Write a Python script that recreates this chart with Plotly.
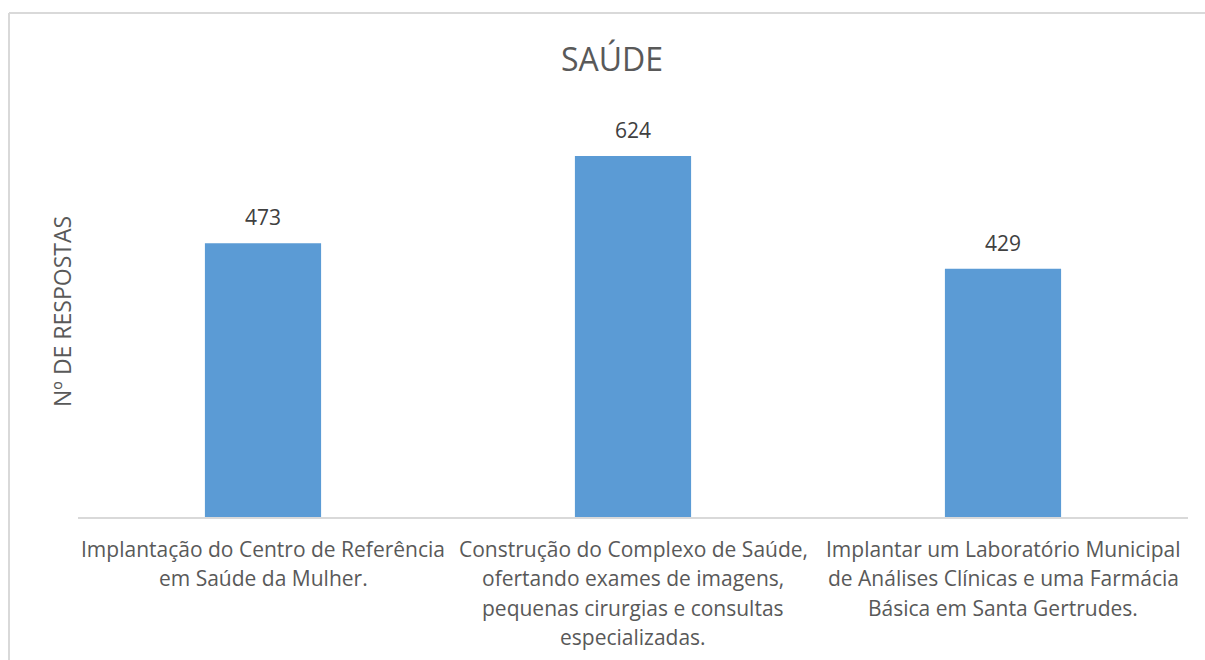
import plotly.graph_objects as go

# Data
categories = [
    "Implantação do Centro de Referência em Saúde da Mulher.",
    "Construção do Complexo de Saúde, ofertando exames de imagens, pequenas cirurgias e consultas especializadas.",
    "Implantar um Laboratório Municipal de Análises Clínicas e uma Farmácia Básica em Santa Gertrudes.",
]
category_lines = [
    ["Implantação do Centro de Referência", "em Saúde da Mulher."],
    ["Construção do Complexo de Saúde,", "ofertando exames de imagens,",
     "pequenas cirurgias e consultas", "especializadas."],
    ["Implantar um Laboratório Municipal", "de Análises Clínicas e uma Farmácia",
     "Básica em Santa Gertrudes."],
]
respostas = [473, 624, 429]

title_text = "SAÚDE"
y_title = "Nº DE RESPOSTAS"

# Layout geometry
W, H = 1205, 660
ML, MR, MT, MB = 78, 17, 112, 143
PW, PH = W - ML - MR, H - MT - MB
FONT = "Open Sans"
BAR_COLOR = "#5B9BD5"
TEXT_COLOR = "#595959"
LABEL_COLOR = "#404040"
BORDER = "#D9D9D9"


def px_to_paper_x(px):
    return (px - ML) / PW


def px_to_paper_y(py):
    return (H - MB - py) / PH


fig = go.Figure(
    go.Bar(
        x=categories,
        y=respostas,
        marker=dict(color=BAR_COLOR, line=dict(width=0)),
        width=0.314,
        hoverinfo="x+y",
    )
)

annotations = []
# value labels above bars
for cat, val in zip(categories, respostas):
    annotations.append(dict(
        x=cat, y=val, xref="x", yref="y", text=str(val), showarrow=False,
        yanchor="bottom", yshift=10,
        font=dict(family=FONT, size=21, color=LABEL_COLOR),
    ))

# multi-line category labels below the axis
LINE_STEP = 29.3
FIRST_LINE = 32
for cat, lines in zip(categories, category_lines):
    for i, line in enumerate(lines):
        annotations.append(dict(
            x=cat, y=0, xref="x", yref="paper", text=line, showarrow=False,
            yanchor="middle", xanchor="center",
            yshift=-(FIRST_LINE + i * LINE_STEP),
            font=dict(family=FONT, size=21, color=TEXT_COLOR),
        ))

# chart title
annotations.append(dict(
    x=px_to_paper_x(612), y=px_to_paper_y(58), xref="paper", yref="paper",
    text=title_text, showarrow=False, xanchor="center", yanchor="middle",
    font=dict(family=FONT, size=32, color=TEXT_COLOR),
))
# vertical axis title
annotations.append(dict(
    x=px_to_paper_x(62), y=px_to_paper_y(312), xref="paper", yref="paper",
    text=y_title, showarrow=False, xanchor="center", yanchor="middle",
    textangle=-90,
    font=dict(family=FONT, size=23, color=TEXT_COLOR),
))

# chart frame (top and left edges visible)
shapes = [
    dict(type="line", xref="paper", yref="paper",
         x0=px_to_paper_x(9), x1=px_to_paper_x(W + 5),
         y0=px_to_paper_y(13), y1=px_to_paper_y(13),
         line=dict(color=BORDER, width=2)),
    dict(type="line", xref="paper", yref="paper",
         x0=px_to_paper_x(9), x1=px_to_paper_x(9),
         y0=px_to_paper_y(13), y1=px_to_paper_y(H + 5),
         line=dict(color=BORDER, width=2)),
]

fig.update_layout(
    width=W, height=H,
    margin=dict(l=ML, r=MR, t=MT, b=MB, pad=0),
    paper_bgcolor="white", plot_bgcolor="white",
    showlegend=False,
    annotations=annotations,
    shapes=shapes,
    xaxis=dict(
        showticklabels=False, ticks="", showgrid=False,
        showline=True, linecolor=BORDER, linewidth=2,
        zeroline=False,
    ),
    yaxis=dict(
        range=[0, 700], showticklabels=False, ticks="", showgrid=False,
        showline=False, zeroline=False,
    ),
    font=dict(family=FONT, color=TEXT_COLOR),
)

fig.write_html("out.html")
